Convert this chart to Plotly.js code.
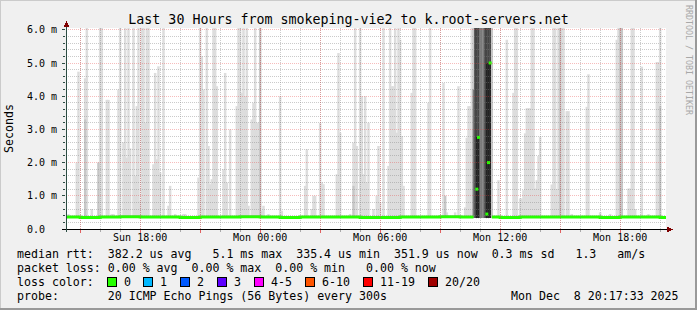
<!DOCTYPE html>
<html>
<head>
<meta charset="utf-8">
<script src="https://cdn.plot.ly/plotly-3.0.1.min.js"></script>
<style>
html,body{margin:0;padding:0;background:#f0f0f0;}
#chart{width:697px;height:310px;}
.shapelayer path{shape-rendering:crispEdges;}
</style>
</head>
<body>
<div id="chart"></div>
<script>
// ---------------- DATA ----------------
const titleText = 'Last 30 Hours from smokeping-vie2 to k.root-servers.net';
const timeStart = '2025-12-07 14:17:33';
const timeEnd = '2025-12-08 20:17:33';

// x tick positions (every 3 h) and labels (every 6 h)
const xTickVals = ['2025-12-07 15:00','2025-12-07 18:00','2025-12-07 21:00','2025-12-08 00:00','2025-12-08 03:00',
                   '2025-12-08 06:00','2025-12-08 09:00','2025-12-08 12:00','2025-12-08 15:00','2025-12-08 18:00'];
const xTickText = ['','Sun 18:00','','Mon 00:00','','Mon 06:00','','Mon 12:00','','Mon 18:00'];
const yTickVals = [0,1,2,3,4,5,6];
const yTickText = ['0.0\u00a0\u00a0','1.0 m','2.0 m','3.0 m','4.0 m','5.0 m','6.0 m'];

// smoke: lowest ping (ms) and highest ping per 5-minute slot (ms)
const smokeFloor = 0.33;
const sunTimes = ['14:25','14:50','14:55','15:15','15:20','15:35','15:55','16:00','16:05','16:20',
                  '16:25','16:35','16:40','16:55','17:00','17:10','17:15','17:20','17:25','17:30',
                  '17:40','17:45','17:50','17:55','18:00','18:05','18:10','18:15','18:20','18:25',
                  '18:40','18:45','18:50','18:55','19:00','19:10','19:25','19:30','19:45','20:10',
                  '20:15','20:55','21:00','21:05','21:10','21:20','21:25','21:30','21:35','21:40',
                  '21:45','21:50','22:10','22:15','22:20','22:30','22:50','22:55','23:00','23:05',
                  '23:10','23:15','23:20','23:25','23:35','23:40','23:45','23:50','23:55'];
const sunMax   = [0.45,2.0,4.74,4.54,6.5,0.6,2.0,6.5,6.5,3.89,
                  3.89,0.45,0.45,4.2,6.5,2.61,6.5,2.15,6.5,2.43,
                  6.5,1.6,3.7,6.5,0.85,6.5,6.5,3.2,6.5,6.5,
                  1.95,4.7,2.1,4.9,1.7,6.5,0.7,1.3,0.45,0.45,
                  0.45,1.55,6.5,5.2,4.2,6.5,2.5,1.35,1.5,6.5,
                  6.5,4.3,1.8,4.7,1.4,3.0,3.7,6.5,6.5,4.1,
                  6.5,4.0,6.5,0.7,3.3,3.8,6.5,3.2,3.2];
const monTimes = ['00:00','00:05','00:10','00:25','01:00','01:05','02:15','02:20','02:35','02:40',
                  '02:45','03:00','03:05','03:10','03:50','03:55','04:00','04:30','04:40','04:45',
                  '04:50','05:00','05:05','05:10','05:15','05:20','05:25','05:40','05:50','05:55',
                  '06:00','06:10','06:25','06:30','06:35','06:40','06:45','06:50','06:55','07:00',
                  '07:05','07:10','07:35','07:40','07:45','08:25','08:30','09:10','09:15','09:20',
                  '09:45','09:55','10:15','10:20','10:25','10:30','10:35','10:40','10:45','10:50',
                  '10:55','11:00','11:05','11:10','11:15','11:20','11:25','11:30','11:35','11:55',
                  '12:20','12:40','12:45','12:50','13:00','13:05','13:10','13:15','13:20','13:25',
                  '13:30','13:35','13:40','13:45','13:50','13:55','14:00','14:35','14:40','14:45',
                  '14:50','14:55','15:00','15:05','15:10','15:20','15:25','15:35','16:20','16:25',
                  '17:00','17:30','17:50','17:55','18:00','18:05','18:25','18:30','18:35','18:40',
                  '18:45','19:05','19:25','19:50','19:55','20:00'];
const monMax   = [6.5,0.55,0.7,0.45,4.0,0.55,1.3,2.4,0.6,1.0,
                  1.0,3.2,1.4,1.35,1.65,5.3,2.9,0.45,2.6,6.5,
                  2.5,6.5,4.0,1.65,4.0,1.4,3.2,0.6,1.0,2.5,
                  0.8,6.5,1.9,6.5,4.3,4.3,6.5,2.9,6.5,5.7,
                  2.8,1.3,4.1,6.5,6.5,3.8,6.5,4.4,1.0,0.5,
                  0.5,4.3,0.65,2.75,3.7,3.7,6.5,6.5,6.5,6.5,
                  6.5,6.5,6.5,6.5,6.5,6.5,6.5,6.5,6.5,1.47,
                  5.7,4.1,6.5,6.5,0.92,0.92,1.17,2.88,3.64,3.64,
                  3.64,6.5,6.5,1.22,1.47,2.2,2.78,1.34,6.5,6.5,
                  1.2,6.5,6.5,6.5,6.5,3.55,3.55,0.45,3.68,4.66,
                  0.5,0.45,5.7,6.5,6.5,6.5,1.22,1.22,6.5,6.5,
                  0.6,4.89,0.45,5.03,5.03,6.5];

// inner smoke bands (second, third ... highest pings), darker greys
const band2Times = ['2025-12-07 15:15','2025-12-07 15:55','2025-12-08 00:00','2025-12-08 04:40','2025-12-08 09:15',
                    '2025-12-08 10:40','2025-12-08 10:45','2025-12-08 10:50','2025-12-08 10:55','2025-12-08 11:00',
                    '2025-12-08 11:05','2025-12-08 11:10','2025-12-08 11:15','2025-12-08 11:20','2025-12-08 11:25',
                    '2025-12-08 11:30','2025-12-08 11:35','2025-12-08 15:00','2025-12-08 18:00','2025-12-08 18:05',
                    '2025-12-08 20:00'];
const band2Top   = [3.3,2.0,6.5,1.3,1.0,
                    6.5,6.5,6.5,6.5,6.5,
                    6.5,6.5,6.5,6.5,6.5,
                    6.5,6.5,6.5,6.5,6.5,
                    3.7];
const band3Times = ['2025-12-08 10:40','2025-12-08 10:45','2025-12-08 10:50','2025-12-08 10:55','2025-12-08 11:00',
                    '2025-12-08 11:05','2025-12-08 11:10','2025-12-08 11:15','2025-12-08 11:20','2025-12-08 11:25',
                    '2025-12-08 11:30'];
const band3Top   = [4.2,6.5,6.5,6.5,6.5,6.5,6.5,6.5,6.5,6.5,6.5];
const band4Times = ['2025-12-08 10:45','2025-12-08 10:50','2025-12-08 10:55','2025-12-08 11:15','2025-12-08 11:20',
                    '2025-12-08 11:25','2025-12-08 11:30'];
const band4Top   = [6.5,6.5,6.5,6.5,6.5,6.5,6.5];
const band5Times = ['2025-12-08 10:50','2025-12-08 10:55','2025-12-08 11:20','2025-12-08 11:25','2025-12-08 11:30'];
const band5Top   = [2.8,2.8,5.0,5.0,5.0];

// median rtt (ms), 0 % loss
const medianTimes = ['2025-12-07 14:17','2025-12-07 15:00','2025-12-07 16:00','2025-12-07 17:00','2025-12-07 18:00',
                     '2025-12-07 19:00','2025-12-07 20:00','2025-12-07 21:00','2025-12-07 22:00','2025-12-07 23:00',
                     '2025-12-08 00:00','2025-12-08 01:00','2025-12-08 02:00','2025-12-08 03:00','2025-12-08 04:00',
                     '2025-12-08 05:00','2025-12-08 06:00','2025-12-08 07:00','2025-12-08 08:00','2025-12-08 09:00',
                     '2025-12-08 10:00','2025-12-08 10:40','2025-12-08 10:41','2025-12-08 11:35','2025-12-08 12:00',
                     '2025-12-08 13:00','2025-12-08 14:00','2025-12-08 15:00','2025-12-08 16:00','2025-12-08 17:00',
                     '2025-12-08 18:00','2025-12-08 19:00','2025-12-08 20:00','2025-12-08 20:18'];
const medianVals  = [0.36,0.35,0.36,0.37,0.36,
                     0.36,0.35,0.36,0.36,0.37,
                     0.36,0.35,0.36,0.36,0.36,
                     0.35,0.35,0.36,0.36,0.37,
                     0.36,0.36,null,0.36,0.35,
                     0.36,0.36,0.36,0.36,0.35,
                     0.36,0.36,0.35,0.35];
const medianDotTimes = ['2025-12-08 10:50','2025-12-08 10:55','2025-12-08 11:20','2025-12-08 11:25','2025-12-08 11:30'];
const medianDotVals  = [1.2,2.76,0.45,2.0,5.0];

// legend texts
const rttStats  = ['382.2 us avg','5.1 ms max','335.4 us min','351.9 us now','0.3 ms sd','1.3','am/s'];
const lossStats = ['0.00 % avg','0.00 % max','0.00 % min','0.00 % now'];
const lossLabels = ['0','1','2','3','4-5','6-10','11-19','20/20'];
const lossColors = ['#26ff00','#00b8ff','#0059ff','#5e00ff','#ff00ff','#ff5500','#ff0000','#a00000'];
const probeText = '20 ICMP Echo Pings (56 Bytes) every 300s';
const stampText = 'Mon Dec\u00a0\u00a08 20:17:33 2025';
const yTitle = 'Seconds';
const watermark = 'RRDTOOL / TOBI OETIKER';

// ---------------- DRAWING ----------------
const FONT = 'DejaVu Sans Mono, monospace';
const W = 697, H = 310, ML = 66, MR = 31, MT = 28, MB = 81;
const PW = W - ML - MR, PH = H - MT - MB;
const yMax = PH / 33.2;
const fx = p => (p - ML) / PW;
const fy = p => (H - MB - p) / PH;
const sp = n => '\u00a0'.repeat(n);
const SLOT = 300000;

const smokeX = sunTimes.map(t => '2025-12-07 ' + t).concat(monTimes.map(t => '2025-12-08 ' + t));
const smokeTop = sunMax.concat(monMax);

function band(xs, tops, color, w) {
  return {
    type: 'bar', x: xs, y: tops.map(v => v - smokeFloor), base: smokeFloor,
    width: w, marker: {color: color, line: {width: 0}}, hoverinfo: 'skip', showlegend: false
  };
}

const traces = [
  band(smokeX, smokeTop, '#dddddd', SLOT * 1.5),
  band(band2Times, band2Top, '#c6c6c6', SLOT * 1.3),
  band(band3Times, band3Top, '#7a7a7a', SLOT),
  band(band4Times, band4Top, '#454545', SLOT),
  band(band5Times, band5Top, '#222222', SLOT),
  {type: 'scatter', mode: 'lines', x: medianTimes, y: medianVals, connectgaps: false,
   line: {color: '#26ff00', width: 3, shape: 'hv'}, hoverinfo: 'skip', showlegend: false},
  {type: 'scatter', mode: 'markers', x: medianDotTimes, y: medianDotVals,
   marker: {color: '#26ff00', symbol: 'square', size: 3, line: {width: 0}}, hoverinfo: 'skip', showlegend: false}
];

const txt = (x, y, s, opts) => Object.assign({
  xref: 'paper', yref: 'paper', x: fx(x), y: fy(y), text: s, showarrow: false,
  xanchor: 'left', yanchor: 'middle', font: {family: FONT, size: 11.6, color: '#000'}, borderpad: 0
}, opts || {});

const CW = 6.98;
const annotations = [
  txt(16, 254, 'median rtt:' + sp(2) + rttStats[0] + sp(3) + rttStats[1] + sp(2) + rttStats[2] + sp(2) +
      rttStats[3] + sp(2) + rttStats[4] + sp(3) + rttStats[5] + sp(3) + rttStats[6]),
  txt(16, 268, 'packet loss: ' + lossStats[0] + sp(2) + lossStats[1] + sp(2) + lossStats[2] + sp(3) + lossStats[3]),
  txt(16, 282, 'loss color:'),
  txt(16, 296, 'probe:' + sp(7) + probeText),
  txt(680, 296, stampText, {xanchor: 'right'}),
  txt(689, 60, watermark, {xanchor: 'center', textangle: 90, font: {family: FONT, size: 8.3, color: '#a8a8a8'}})
];

const shapes = [];
// grid (drawn over the smoke, as rrdtool does)
const minorCol = 'rgba(130,130,130,0.42)', majorCol = 'rgba(230,70,70,0.36)';
const hour = 3600000;
const t0 = new Date('2025-12-07T15:00:00Z').getTime(), t1 = new Date('2025-12-08T20:17:33Z').getTime();
const iso = ms => new Date(ms).toISOString().slice(0, 19).replace('T', ' ');
for (let t = t0; t < t1; t += hour) {
  shapes.push({type: 'line', xref: 'x', yref: 'y', x0: iso(t), x1: iso(t), y0: 0, y1: yMax, layer: 'above',
               line: {color: minorCol, width: 1, dash: '1px,1px'}});
}
for (let k = 1; k <= 30; k++) {
  if (k % 5 === 0) continue;
  shapes.push({type: 'line', xref: 'x', yref: 'y', x0: timeStart, x1: timeEnd, y0: k * 0.2, y1: k * 0.2, layer: 'above',
               line: {color: minorCol, width: 1, dash: '1px,1px'}});
}
xTickVals.forEach(t => shapes.push({type: 'line', xref: 'x', yref: 'y', x0: t, x1: t, y0: 0, y1: yMax, layer: 'above',
               line: {color: majorCol, width: 1, dash: '1px,1px'}}));
yTickVals.slice(1).forEach(v => shapes.push({type: 'line', xref: 'x', yref: 'y', x0: timeStart, x1: timeEnd, y0: v, y1: v,
               layer: 'above', line: {color: majorCol, width: 1, dash: '1px,1px'}}));

shapes.push(
  // frame shading
  {type: 'line', xref: 'paper', yref: 'paper', x0: fx(0), x1: fx(W), y0: fy(0.5), y1: fy(0.5), line: {color: '#cbcbcb', width: 1}},
  {type: 'line', xref: 'paper', yref: 'paper', x0: fx(0.5), x1: fx(0.5), y0: fy(0), y1: fy(H), line: {color: '#cbcbcb', width: 1}},
  {type: 'line', xref: 'paper', yref: 'paper', x0: fx(0), x1: fx(W), y0: fy(H - 1), y1: fy(H - 1), line: {color: '#999999', width: 2}},
  {type: 'line', xref: 'paper', yref: 'paper', x0: fx(W - 1), x1: fx(W - 1), y0: fy(0), y1: fy(H), line: {color: '#999999', width: 2}},
  // axes
  {type: 'line', xref: 'paper', yref: 'paper', x0: fx(62), x1: fx(668), y0: fy(229.5), y1: fy(229.5), line: {color: '#000000', width: 1}},
  {type: 'line', xref: 'paper', yref: 'paper', x0: fx(66.5), x1: fx(66.5), y0: fy(232), y1: fy(26), line: {color: '#2c4d43', width: 1}},
  // arrows
  {type: 'path', xref: 'paper', yref: 'paper', fillcolor: '#7f0000', line: {width: 0},
   path: `M${fx(63.5)},${fy(27)} L${fx(69.5)},${fy(27)} L${fx(66.5)},${fy(21)} Z`},
  {type: 'path', xref: 'paper', yref: 'paper', fillcolor: '#7f0000', line: {width: 0},
   path: `M${fx(667)},${fy(226.5)} L${fx(667)},${fy(232.5)} L${fx(673)},${fy(229.5)} Z`}
);

// loss colour legend boxes
let cx = 107;
lossLabels.forEach((lab, i) => {
  shapes.push({type: 'rect', xref: 'paper', yref: 'paper', x0: fx(cx), x1: fx(cx + 9), y0: fy(286.5), y1: fy(277.5),
               fillcolor: lossColors[i], line: {color: '#000', width: 1}});
  annotations.push(txt(cx + 15.5, 282, lab));
  cx += 16 + lab.length * CW + 14;
});

const layout = {
  width: W, height: H,
  margin: {l: ML, r: MR, t: MT, b: MB, pad: 0},
  paper_bgcolor: '#f0f0f0', plot_bgcolor: '#ffffff',
  barmode: 'overlay', showlegend: false,
  title: {text: titleText, font: {family: FONT, size: 13.3, color: '#000'}, x: 0.5, xanchor: 'center',
          y: 1 - 19 / H, yanchor: 'middle'},
  xaxis: {
    type: 'date', range: [timeStart, timeEnd], fixedrange: true,
    tickmode: 'array', tickvals: xTickVals, ticktext: xTickText,
    showgrid: false, ticks: 'outside', ticklen: 3, tickcolor: '#e06060', tickwidth: 1,
    showline: false, zeroline: false, ticklabelstandoff: -4,
    tickfont: {family: FONT, size: 10, color: '#000'},
    minor: {tickmode: 'linear', tick0: '2025-12-07 15:00', dtick: hour, showgrid: false,
            ticks: 'outside', ticklen: 2, tickcolor: '#aaaaaa'}
  },
  yaxis: {
    range: [0, yMax], fixedrange: true,
    tickmode: 'array', tickvals: yTickVals, ticktext: yTickText,
    showgrid: false, ticks: 'outside', ticklen: 3, tickcolor: '#2c4d43',
    showline: false, zeroline: false, ticklabelstandoff: 3,
    tickfont: {family: FONT, size: 10, color: '#000'},
    title: {text: yTitle, font: {family: FONT, size: 11.6, color: '#000'}, standoff: 10},
    minor: {tickmode: 'linear', tick0: 0, dtick: 0.2, showgrid: false,
            ticks: 'outside', ticklen: 2, tickcolor: '#2c4d43'}
  },
  shapes: shapes,
  annotations: annotations
};

Plotly.newPlot('chart', traces, layout, {staticPlot: true, displayModeBar: false});
</script>
</body>
</html>
